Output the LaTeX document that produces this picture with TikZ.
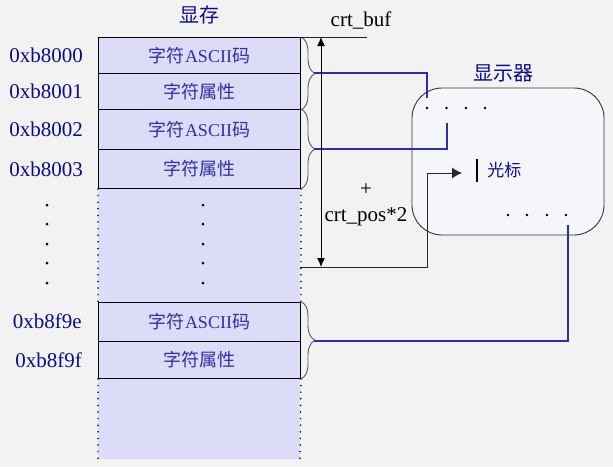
\documentclass[tikz,border=0pt]{standalone}
\usepackage{fontspec}
\setmainfont{Liberation Serif}
\newfontfamily\cjk{Noto Sans CJK SC}
\usepackage{tikz}
\usetikzlibrary{arrows.meta,positioning,decorations.pathreplacing}

\definecolor{bgcol}{HTML}{F2F2F2}
\definecolor{memfill}{HTML}{DCDCF8}
\definecolor{scrfill}{HTML}{F5F5FC}
\definecolor{navy}{HTML}{0C0C8A}
\definecolor{cellblue}{HTML}{2F2FA6}
\definecolor{linkblue}{HTML}{2E2EA8}
\newcommand{\zh}[1]{{\cjk #1}}

\begin{document}
\begin{tikzpicture}[x=1pt, y=-1pt,
    cell/.style={draw, line width=1pt, fill=memfill, minimum width=202pt, inner sep=0pt, anchor=north west, text=cellblue, font=\fontsize{18}{20}\selectfont},
    addr/.style={text=navy, inner sep=0pt, font=\fontsize{21}{23}\selectfont},
    ttl/.style={text=navy, inner sep=0pt, font=\fontsize{20}{22}\selectfont},
    lbl/.style={text=black, inner sep=0pt, font=\fontsize{21}{23}\selectfont},
    cbrace/.style={decorate, decoration={brace, amplitude=14pt}, draw=black!65, line width=0.9pt},
    dotline/.style={line width=1.7pt, line cap=round, dash pattern=on 0pt off 6.6pt},
    link/.style={draw=linkblue, line width=1.2pt},
    ptr/.style={-{Latex[length=10pt,width=11pt]}, line width=1pt, black!85},
    span/.style={{Latex[length=9pt,width=8pt]}-{Latex[length=9pt,width=8pt]}, line width=1pt, black}
]
\useasboundingbox (0,0) rectangle (613,467);
\fill[bgcol] (0,0) rectangle (613,467);

% --- video memory column ---
\fill[memfill] (98,37) rectangle (300,459);
\node[cell, minimum height=36pt] (m0) at (98,37) {\zh{字符}ASCII\zh{码}};
\node[cell, minimum height=36pt] (m1) at (98,73) {\zh{字符属性}};
\node[cell, minimum height=40pt] (m2) at (98,109) {\zh{字符}ASCII\zh{码}};
\node[cell, minimum height=39pt] (m3) at (98,149) {\zh{字符属性}};
\node[cell, minimum height=39pt] (m4) at (98,301.5) {\zh{字符}ASCII\zh{码}};
\node[cell, minimum height=37.5pt] (m5) at (98,340.5) {\zh{字符属性}};
\coordinate (endL) at (98,459);
\coordinate (endR) at (300,459);
\draw[dotline] (m3.south west) -- (m4.north west);
\draw[dotline] (m3.south east) -- (m4.north east);
\draw[dotline] (m5.south west) -- (endL);
\draw[dotline] (m5.south east) -- (endR);

\node[ttl, above=13pt of m0] (memT) {\zh{显存}};

% --- addresses ---
\node[addr, left=15pt of m0] (a0) {0xb8000};
\node[addr, left=15pt of m1] (a1) {0xb8001};
\node[addr, left=15pt of m2] (a2) {0xb8002};
\node[addr, left=15pt of m3] (a3) {0xb8003};
\node[addr, left=16pt of m4] (a4) {0xb8f9e};
\node[addr, left=16pt of m5] (a5) {0xb8f9f};

% --- skipped rows ---
\fill (47,205) circle (1.5pt) (47,224) circle (1.5pt) (47,244) circle (1.5pt) (47,263) circle (1.5pt) (47,283) circle (1.5pt);
\fill (203,205) circle (1.5pt) (203,224) circle (1.5pt) (203,244) circle (1.5pt) (203,263) circle (1.5pt) (203,283) circle (1.5pt);

% --- braces, one per character ---
\draw[cbrace] (m0.north east) -- (m1.south east);
\draw[cbrace] (m2.north east) -- (m3.south east);
\draw[cbrace] (m4.north east) -- (m5.south east);
\coordinate (t0) at (314,73);
\coordinate (t1) at (314,149);
\coordinate (t2) at (314,341);

% --- display ---
\node[draw=black!80, line width=0.9pt, fill=scrfill, rounded corners=30pt, minimum width=192pt, minimum height=147pt] (disp) at (508,161.5) {};
\node[ttl, above=5pt of disp, xshift=-5pt] (dispT) {\zh{显示器}};
\fill (427,108) circle (1.3pt) (446.5,108) circle (1.3pt) (466,108) circle (1.3pt) (485,108) circle (1.3pt);
\fill (508,215) circle (1.3pt) (527,215) circle (1.3pt) (547,215) circle (1.3pt) (566,215) circle (1.3pt);
\node[fill=black, inner sep=0pt, minimum width=2pt, minimum height=23pt] (cur) at (477,170.5) {};
\node[text=navy, inner sep=0pt, font=\fontsize{17}{19}\selectfont, right=9pt of cur] (curT) {\zh{光标}};

% --- links from memory to screen ---
\coordinate (p0) at (427,98);
\coordinate (p1) at (447,123);
\coordinate (p2) at (568,225);
\draw[link] (t0) -| (p0);
\draw[link] (t1) -| (p1);
\draw[link] (t2) -| (p2);

% --- crt_buf + crt_pos*2 ---
\coordinate (bufEnd) at (367,37);
\coordinate (bufTop) at (321,37);
\coordinate (posBot) at (321,267);
\coordinate (pos) at (300,267);
\coordinate (cin) at (462,173);
\draw[line width=1pt, black!85] (m0.north east) -- (bufEnd);
\draw[span] (bufTop) -- (posBot);
\draw[ptr] (pos) -- ++(127,0) |- (cin);
\node[lbl] (buf) at (361,20) {crt\_buf};
\node[lbl] (plus) at (366,190) {+};
\node[lbl] (offs) at (366,217) {crt\_pos*2};

\end{tikzpicture}
\end{document}
